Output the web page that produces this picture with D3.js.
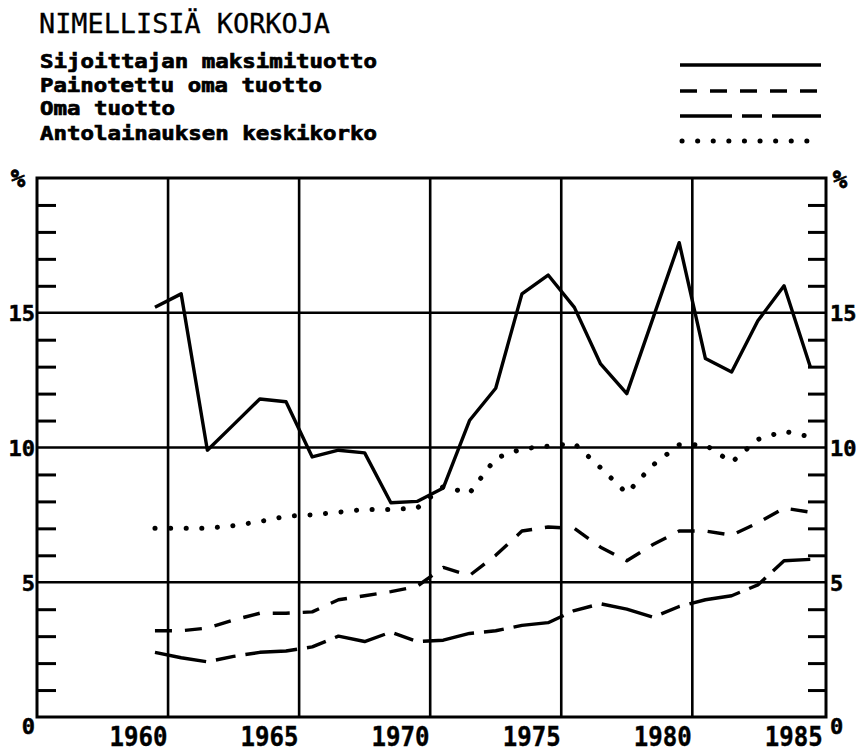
<!DOCTYPE html>
<html>
<head>
<meta charset="utf-8">
<script src="https://cdn.jsdelivr.net/npm/d3@7"></script>
<style>
  html, body { margin: 0; padding: 0; background: #fff; }
  svg { display: block; }
  text { fill: #000; }
</style>
</head>
<body>
<svg id="chart" width="858" height="751"></svg>
<script>
// ---- data ----
const years = [1960,1961,1962,1963,1964,1965,1966,1967,1968,1969,1970,1971,1972,
               1973,1974,1975,1976,1977,1978,1979,1980,1981,1982,1983,1984,1985];
const maksimituotto = [15.2,15.7,9.9,10.85,11.8,11.7,9.65,9.9,9.8,7.95,8.0,8.5,11.0,
                       12.2,15.7,16.4,15.2,13.1,12.0,14.8,17.6,13.3,12.8,14.7,16.0,13.0];
const painotettuOmaTuotto = [3.2,3.2,3.3,3.6,3.85,3.85,3.9,4.35,4.5,4.65,4.85,5.55,5.25,
                             6.0,6.9,7.05,7.0,6.3,5.8,6.4,6.9,6.9,6.75,7.2,7.75,7.6];
const omaTuotto = [2.4,2.2,2.05,2.25,2.4,2.45,2.6,3.0,2.8,3.15,2.8,2.85,3.1,
                   3.2,3.4,3.5,3.95,4.2,4.0,3.7,4.1,4.35,4.5,4.9,5.8,5.85];
const antolainaus = [7.0,7.0,7.0,7.1,7.25,7.45,7.5,7.6,7.7,7.7,7.75,8.55,8.3,
                     9.6,9.95,10.05,10.15,9.25,8.3,9.35,10.1,10.1,9.45,10.3,10.6,10.4];
const seriesNames = ["Sijoittajan maksimituotto","Painotettu oma tuotto","Oma tuotto","Antolainauksen keskikorko"];
const title = "NIMELLISIÄ KORKOJA";
const yearTicks = [1960,1965,1970,1975,1980,1985];
const gridYears = [1960.5,1965.5,1970.5,1975.5,1980.5];
const yLabelValues = [0,5,10,15];
const yGridValues = [5,10,15];
const yMinorValues = [1,2,3,4,6,7,8,9,11,12,13,14,16,17,18,19];

// ---- layout ----
const svg = d3.select("#chart");
const L = 37, R = 826, T = 178, B = 717;
const x = d3.scaleLinear().domain([1955.5, 1985.6]).range([L, R]);
const y = d3.scaleLinear().domain([0, 20]).range([B, T]);
const MONO = "'DejaVu Sans Mono', 'Liberation Mono', monospace";

// title
svg.append("text").attr("x", 39).attr("y", 33)
  .attr("font-family", MONO).attr("font-size", 27)
  .attr("stroke", "#000").attr("stroke-width", 0.3)
  .attr("textLength", 291).attr("lengthAdjust", "spacingAndGlyphs")
  .text(title);

// legend
const styles = [
  {dash: null, cap: "butt"},
  {dash: "17,13", cap: "butt"},
  {dash: "52,10,20,10", cap: "butt"},
  {dash: "0.1,15.5", cap: "round"}
];
const legendRows = [
  {name: seriesNames[0], base: 68, len: 337, ly: 65},
  {name: seriesNames[1], base: 92, len: 282, ly: 91},
  {name: seriesNames[2], base: 115, len: 135, ly: 116},
  {name: seriesNames[3], base: 140, len: 337, ly: 141}
];
legendRows.forEach((r, i) => {
  svg.append("text").attr("x", 40).attr("y", r.base)
    .attr("font-family", MONO).attr("font-weight", "bold").attr("font-size", 19)
    .attr("stroke", "#000").attr("stroke-width", 0.7)
    .attr("textLength", r.len).attr("lengthAdjust", "spacingAndGlyphs")
    .text(r.name);
  const ln = svg.append("line")
    .attr("x1", i === 3 ? 682 : 680).attr("x2", 821)
    .attr("y1", r.ly).attr("y2", r.ly)
    .attr("stroke", "#000").attr("stroke-width", i === 3 ? 5 : 3.5)
    .attr("stroke-linecap", styles[i].cap);
  if (styles[i].dash) ln.attr("stroke-dasharray", styles[i].dash);
});

// gridlines
const g = svg.append("g");
g.selectAll("line.vg").data(gridYears).join("line")
  .attr("x1", d => x(d)).attr("x2", d => x(d)).attr("y1", T).attr("y2", B)
  .attr("stroke", "#000").attr("stroke-width", 2.6);
g.selectAll("line.hg").data(yGridValues).join("line")
  .attr("x1", L).attr("x2", R).attr("y1", d => y(d)).attr("y2", d => y(d))
  .attr("stroke", "#000").attr("stroke-width", 2.6);

// minor ticks via axes
const leftTicks = svg.append("g").attr("transform", `translate(${L},0)`)
  .call(d3.axisLeft(y).tickValues(yMinorValues).tickSize(-19).tickFormat(""));
const rightTicks = svg.append("g").attr("transform", `translate(${R},0)`)
  .call(d3.axisRight(y).tickValues(yMinorValues).tickSize(-18).tickFormat(""));
[leftTicks, rightTicks].forEach(a => {
  a.select(".domain").remove();
  a.selectAll("line").attr("stroke", "#000").attr("stroke-width", 3);
});

// frame
svg.append("rect").attr("x", L).attr("y", T).attr("width", R - L).attr("height", B - T)
  .attr("fill", "none").attr("stroke", "#000").attr("stroke-width", 3);

// y labels (left and right)
const yLabL = svg.append("g").attr("transform", `translate(35,0)`)
  .call(d3.axisLeft(y).tickValues(yLabelValues).tickSize(0).tickPadding(0));
const yLabR = svg.append("g").attr("transform", `translate(830,0)`)
  .call(d3.axisRight(y).tickValues(yLabelValues).tickSize(0).tickPadding(0));
[yLabL, yLabR].forEach(a => {
  a.select(".domain").remove();
  a.selectAll("text").attr("font-family", MONO).attr("font-weight", "bold")
    .attr("font-size", 22).attr("fill", "#000")
    .attr("stroke", "#000").attr("stroke-width", 0.5)
    .attr("dy", d => d === 0 ? "0.75em" : "0.36em");
});
svg.append("text").attr("x", 18).attr("y", y(20) + 9).attr("text-anchor", "middle")
  .attr("font-family", MONO).attr("font-weight", "bold").attr("font-size", 24)
  .attr("stroke", "#000").attr("stroke-width", 0.8).text("%");
svg.append("text").attr("x", 840).attr("y", y(20) + 10).attr("text-anchor", "middle")
  .attr("font-family", MONO).attr("font-weight", "bold").attr("font-size", 24)
  .attr("stroke", "#000").attr("stroke-width", 0.8).text("%");

// x labels
const xLab = svg.append("g").attr("transform", `translate(0,${B})`)
  .call(d3.axisBottom(x).tickValues(yearTicks).tickSize(0).tickPadding(0).tickFormat(d3.format("d")));
xLab.select(".domain").remove();
xLab.selectAll("text").attr("font-family", MONO).attr("font-weight", "bold")
  .attr("font-size", 26).attr("fill", "#000")
  .attr("stroke", "#000").attr("stroke-width", 0.4)
  .attr("dx", -17).attr("dy", 0).attr("y", 29)
  .attr("textLength", 58).attr("lengthAdjust", "spacingAndGlyphs");

// series
const allSeries = [maksimituotto, painotettuOmaTuotto, omaTuotto, antolainaus];
const line = d3.line().x((d, i) => x(years[i])).y(d => y(d));
allSeries.forEach((vals, i) => {
  const p = svg.append("path").datum(vals).attr("d", line)
    .attr("fill", "none").attr("stroke", "#000")
    .attr("stroke-width", i === 3 ? 5 : 3.4)
    .attr("stroke-linejoin", "round")
    .attr("stroke-linecap", styles[i].cap);
  if (styles[i].dash) p.attr("stroke-dasharray", styles[i].dash);
});
</script>
</body>
</html>
